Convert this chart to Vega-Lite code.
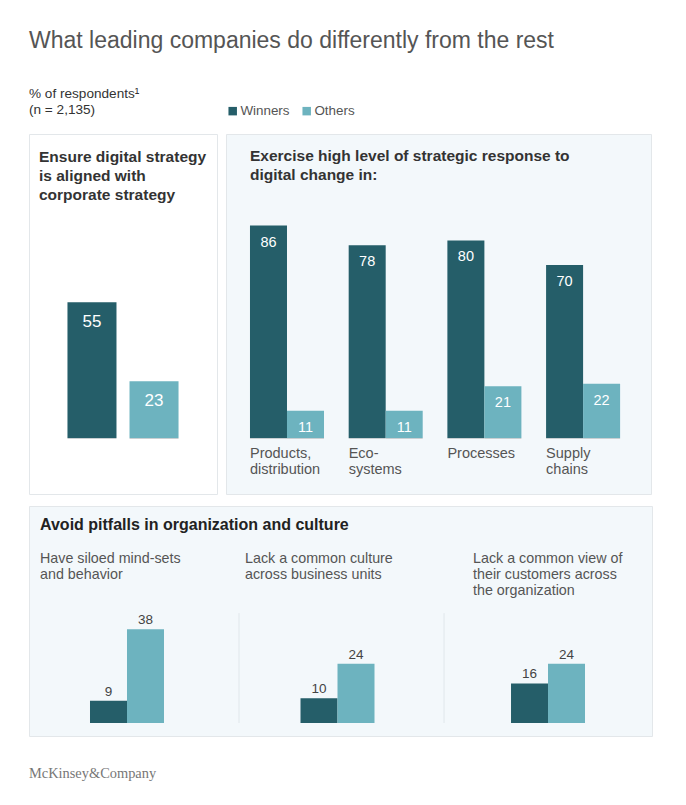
{
  "$schema": "https://vega.github.io/schema/vega-lite/v6.json",
  "padding": {"left": 28, "top": 30, "right": 0, "bottom": 0},
  "background": "#ffffff",
  "title": {
    "text": "What leading companies do differently from the rest",
    "subtitle": ["% of respondents¹", "(n = 2,135)"],
    "anchor": "start",
    "frame": "group",
    "orient": "top",
    "offset": -13,
    "font": "Liberation Sans",
    "fontSize": 23,
    "fontWeight": "normal",
    "color": "#555555",
    "subtitleFont": "Liberation Sans",
    "subtitleFontSize": 13.6,
    "subtitleColor": "#333333",
    "subtitlePadding": 34,
    "subtitleLineHeight": 16
  },
  "data": {
    "values": [
      {"panel": "align", "group": "Ensure", "series": "Winners", "value": 55},
      {"panel": "align", "group": "Ensure", "series": "Others", "value": 23},
      {"panel": "response", "group": "Products,\ndistribution", "series": "Winners", "value": 86},
      {"panel": "response", "group": "Products,\ndistribution", "series": "Others", "value": 11},
      {"panel": "response", "group": "Eco-\nsystems", "series": "Winners", "value": 78},
      {"panel": "response", "group": "Eco-\nsystems", "series": "Others", "value": 11},
      {"panel": "response", "group": "Processes", "series": "Winners", "value": 80},
      {"panel": "response", "group": "Processes", "series": "Others", "value": 21},
      {"panel": "response", "group": "Supply\nchains", "series": "Winners", "value": 70},
      {"panel": "response", "group": "Supply\nchains", "series": "Others", "value": 22},
      {"panel": "pitfalls", "group": "Have siloed mind-sets\nand behavior", "series": "Winners", "value": 9},
      {"panel": "pitfalls", "group": "Have siloed mind-sets\nand behavior", "series": "Others", "value": 38},
      {"panel": "pitfalls", "group": "Lack a common culture\nacross business units", "series": "Winners", "value": 10},
      {"panel": "pitfalls", "group": "Lack a common culture\nacross business units", "series": "Others", "value": 24},
      {"panel": "pitfalls", "group": "Lack a common view of\ntheir customers across\nthe organization", "series": "Winners", "value": 16},
      {"panel": "pitfalls", "group": "Lack a common view of\ntheir customers across\nthe organization", "series": "Others", "value": 24}
    ]
  },
  "resolve": {"scale": {"xOffset": "independent"}},
  "spacing": 28,
  "vconcat": [
    {
      "spacing": 10,
      "resolve": {"scale": {"xOffset": "independent"}},
      "vconcat": [
        {
          "spacing": 7,
          "hconcat": [
            {
              "width": 188,
              "height": 360,
              "view": {"fill": "#ffffff", "stroke": "#e3e7ea", "strokeWidth": 1},
              "title": {
                "text": ["Ensure digital strategy", "is aligned with", "corporate strategy"],
                "anchor": "start", "frame": "group", "orient": "top", "baseline": "top",
                "offset": -69, "dx": 10, "fontSize": 15.5, "fontWeight": "bold",
                "color": "#333333", "lineHeight": 19
              },
              "transform": [{"filter": "datum.panel === 'align'"}],
              "encoding": {
                "x": {"field": "series", "type": "nominal", "sort": ["Winners", "Others"],
                      "scale": {"paddingInner": 0.21, "paddingOuter": 0.62}, "axis": null},
                "y": {"field": "value", "type": "quantitative",
                      "scale": {"domain": [-22.67, 123.08], "nice": false, "zero": false}, "axis": null}
              },
              "layer": [
                {
                  "mark": {"type": "bar"},
                  "encoding": {
                    "y2": {"datum": 0},
                    "color": {"field": "series", "type": "nominal",
                              "scale": {"domain": ["Winners", "Others"], "range": ["#255e69", "#6db3bf"]},
                              "legend": {"title": null, "orient": "none", "legendX": 197, "legendY": -30,
                                         "direction": "horizontal", "symbolType": "square", "symbolSize": 72,
                                         "symbolStrokeWidth": 0, "labelFontSize": 13.4, "labelColor": "#555555",
                                         "columnPadding": 10, "labelOffset": 1, "padding": 0}}
                  }
                },
                {
                  "mark": {"type": "bar", "color": "#c9cfd2"},
                  "encoding": {"y": {"datum": 0}, "y2": {"datum": -0.4}}
                },
                {
                  "mark": {"type": "text", "baseline": "alphabetic", "dy": 24.5, "fontSize": 17, "color": "#ffffff"},
                  "encoding": {"text": {"field": "value", "type": "quantitative"}}
                }
              ]
            },
            {
              "width": 425,
              "height": 360,
              "view": {"fill": "#f3f8fb", "stroke": "#e3e7ea", "strokeWidth": 1},
              "title": {
                "text": ["Exercise high level of strategic response to", "digital change in:"],
                "anchor": "start", "frame": "group", "orient": "top", "baseline": "top",
                "offset": -49, "dx": 24, "fontSize": 15.5, "fontWeight": "bold",
                "color": "#333333", "lineHeight": 19
              },
              "transform": [{"filter": "datum.panel === 'response'"}],
              "encoding": {
                "x": {"field": "group", "type": "nominal",
                      "sort": ["Products,\ndistribution", "Eco-\nsystems", "Processes", "Supply\nchains"],
                      "scale": {"paddingInner": 0.25, "paddingOuter": 0.278, "align": 0.437},
                      "axis": {"orient": "bottom", "offset": -56, "title": null, "domain": false, "ticks": false,
                               "tickSize": 0, "labelAngle": 0, "labelAlign": "left", "labelBaseline": "top",
                               "labelOffset": -37, "labelPadding": 8, "labelFontSize": 14.5, "labelColor": "#555555",
                               "labelLineHeight": 16, "labelLimit": 0,
                               "labelExpr": "split(datum.label, '\\n')"}},
                "xOffset": {"field": "series", "type": "nominal", "sort": ["Winners", "Others"],
                            "scale": {"paddingInner": 0, "paddingOuter": 0}},
                "y": {"field": "value", "type": "quantitative",
                      "scale": {"domain": [-22.67, 123.08], "nice": false, "zero": false}, "axis": null}
              },
              "layer": [
                {
                  "mark": {"type": "bar"},
                  "encoding": {
                    "y2": {"datum": 0},
                    "color": {"field": "series", "type": "nominal",
                              "scale": {"domain": ["Winners", "Others"], "range": ["#255e69", "#6db3bf"]},
                              "legend": {"title": null, "orient": "none", "legendX": 197, "legendY": -30,
                                         "direction": "horizontal", "symbolType": "square", "symbolSize": 72,
                                         "symbolStrokeWidth": 0, "labelFontSize": 13.4, "labelColor": "#555555",
                                         "columnPadding": 10, "labelOffset": 1, "padding": 0}}
                  }
                },
                {
                  "mark": {"type": "bar", "color": "#c9cfd2"},
                  "encoding": {"y": {"datum": 0}, "y2": {"datum": -0.4}}
                },
                {
                  "mark": {"type": "text", "baseline": "alphabetic", "dy": 21, "fontSize": 14.5, "color": "#ffffff"},
                  "encoding": {"text": {"field": "value", "type": "quantitative"}}
                }
              ]
            }
          ]
        },
        {
          "width": 623,
          "height": 230,
          "view": {"fill": "#f3f8fb", "stroke": "#e3e7ea", "strokeWidth": 1},
          "title": {
            "text": "Avoid pitfalls in organization and culture",
            "anchor": "start", "frame": "group", "orient": "top", "baseline": "top",
            "offset": -27, "dx": 11, "fontSize": 16, "fontWeight": "bold", "color": "#222222"
          },
          "layer": [
            {
              "transform": [{"filter": "datum.panel === 'pitfalls'"}],
              "encoding": {
                "x": {"field": "group", "type": "nominal",
                      "sort": ["Have siloed mind-sets\nand behavior", "Lack a common culture\nacross business units", "Lack a common view of\ntheir customers across\nthe organization"],
                      "scale": {"paddingInner": 0.6485, "paddingOuter": 0.304, "align": 0.4766},
                      "axis": {"orient": "top", "offset": -45, "title": null, "domain": false, "ticks": false,
                               "tickSize": 0, "labelAngle": 0, "labelAlign": "left", "labelBaseline": "top",
                               "labelOffset": {"condition": [
                                 {"test": "indexof(datum.label, 'view') >= 0", "value": -75},
                                 {"test": "indexof(datum.label, 'siloed') >= 0", "value": -87}
                               ], "value": -92.5},
                               "labelPadding": 0, "labelFontSize": 14.3, "labelColor": "#555555",
                               "labelLineHeight": 16, "labelLimit": 0,
                               "labelExpr": "split(datum.label, '\\n')"}},
                "xOffset": {"field": "series", "type": "nominal", "sort": ["Winners", "Others"],
                            "scale": {"paddingInner": 0, "paddingOuter": 0}},
                "y": {"field": "value", "type": "quantitative",
                      "scale": {"domain": [-5.26, 87.85], "nice": false, "zero": false}, "axis": null}
              },
              "layer": [
                {
                  "mark": {"type": "bar"},
                  "encoding": {
                    "y2": {"datum": 0},
                    "color": {"field": "series", "type": "nominal",
                              "scale": {"domain": ["Winners", "Others"], "range": ["#255e69", "#6db3bf"]},
                              "legend": {"title": null, "orient": "none", "legendX": 197, "legendY": -30,
                                         "direction": "horizontal", "symbolType": "square", "symbolSize": 72,
                                         "symbolStrokeWidth": 0, "labelFontSize": 13.4, "labelColor": "#555555",
                                         "columnPadding": 10, "labelOffset": 1, "padding": 0}}
                  }
                },
                {
                  "mark": {"type": "text", "baseline": "alphabetic", "dy": -5, "fontSize": 13.5, "color": "#444444"},
                  "encoding": {"text": {"field": "value", "type": "quantitative"}}
                }
              ]
            },
            {
              "data": {"values": [{"group": "Lack a common culture\nacross business units"}]},
              "mark": {"type": "rule", "color": "#e1e7eb", "strokeWidth": 1},
              "encoding": {
                "x": {"field": "group", "type": "nominal", "bandPosition": -0.831},
                "y": {"datum": 0},
                "y2": {"datum": 44.5}
              }
            },
            {
              "data": {"values": [{"group": "Lack a common view of\ntheir customers across\nthe organization"}]},
              "mark": {"type": "rule", "color": "#e1e7eb", "strokeWidth": 1},
              "encoding": {
                "x": {"field": "group", "type": "nominal", "bandPosition": -0.905},
                "y": {"datum": 0},
                "y2": {"datum": 44.5}
              }
            }
          ]
        }
      ]
    },
    {
      "width": 623,
      "height": 1,
      "data": {"values": []},
      "mark": {"type": "rule"},
      "encoding": {},
      "title": {
        "text": "McKinsey&Company",
        "anchor": "start", "frame": "group", "orient": "top",
        "offset": 0, "font": "Liberation Serif", "fontSize": 14.4, "fontWeight": "normal", "color": "#777777"
      }
    }
  ],
  "config": {
    "font": "Liberation Sans",
    "view": {"stroke": null},
    "bar": {"stroke": null}
  }
}
